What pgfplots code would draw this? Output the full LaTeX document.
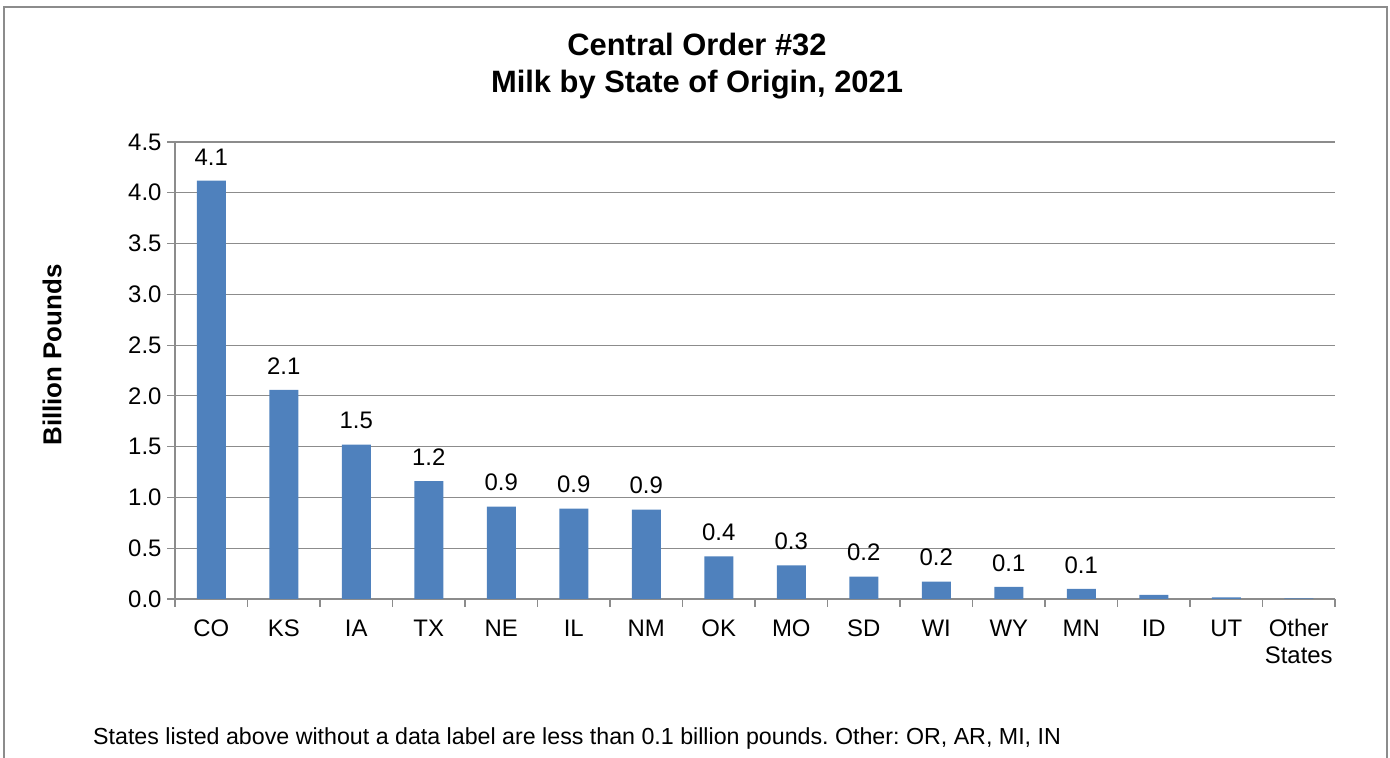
\documentclass[border=0pt]{standalone}
\usepackage{pgfplots}
\pgfplotsset{compat=1.18}
\usepackage{pgfplotstable}
\usepackage{fontspec}
\setmainfont{Liberation Sans}
\frenchspacing
\definecolor{barblue}{HTML}{4F81BD}
\definecolor{gridgray}{HTML}{8C8C8C}
\definecolor{framegray}{HTML}{8C8C8C}
\pgfplotstableread{
x y lab
0 4.12 4.1
1 2.06 2.1
2 1.52 1.5
3 1.16 1.2
4 0.91 0.9
5 0.89 0.9
6 0.88 0.9
7 0.42 0.4
8 0.33 0.3
9 0.22 0.2
10 0.17 0.2
11 0.12 0.1
12 0.10 0.1
13 0.04 {}
14 0.015 {}
15 0.006 {}
}\milk
\begin{document}
\begin{tikzpicture}[x=1bp,y=1bp]
\useasboundingbox (0,0) rectangle (1390,757);
\draw[framegray, line width=1.5bp] (4,-2) -- (4,750) -- (1387,750) -- (1387,-2);
\node[align=center, font=\fontsize{31}{37}\selectfont\bfseries] at (697,691) {Central Order \#32\\Milk by State of Origin, 2021};
\node[rotate=90, font=\fontsize{26}{28}\selectfont\bfseries] at (52,402) {Billion Pounds};
\node[anchor=west, font=\fontsize{23.3}{26}\selectfont, inner sep=0pt] at (93,19) {States listed above without a data label are less than 0.1 billion pounds. Other: OR, AR, MI, IN};
\begin{axis}[
  at={(175bp,158bp)}, anchor=south west,
  scale only axis, width=1160bp, height=457bp,
  xmin=-0.5, xmax=15.5, ymin=0, ymax=4.5,
  ytick={0,0.5,...,4.5},
  yticklabel style={xshift=-2bp, /pgf/number format/.cd, fixed, fixed zerofill, precision=1, assume math mode=true},
  ticklabel style={font=\fontsize{24}{27}\selectfont, text=black},
  xtick={0,...,15},
  xticklabels={\strut CO,\strut KS,\strut IA,\strut TX,\strut NE,\strut IL,\strut NM,\strut OK,\strut MO,\strut SD,\strut WI,\strut WY,\strut MN,\strut ID,\strut UT,{\strut Other\\\strut States}},
  xticklabel style={align=center, yshift=-7bp},
  minor xtick={-0.5,0.5,...,15.5},
  major x tick style={draw=none},
  tick style={gridgray, line width=1.2bp},
  minor tick length=8bp,
  major tick length=8bp,
  tick align=outside,
  xtick pos=bottom, ytick pos=left,
  ymajorgrids, grid style={gridgray, line width=1.2bp},
  axis x line*=bottom, axis y line*=left,
  axis line style={gridgray, line width=1.2bp, -},
  ybar, bar width=29bp,
  nodes near coords,
  point meta=explicit symbolic,
  every node near coord/.append style={font=\fontsize{24}{27}\selectfont, text=black, yshift=12bp},
  clip=false,
]
\addplot[fill=barblue, draw=none, bar shift=0pt] table[x=x, y=y, meta=lab] {\milk};
\end{axis}
\end{tikzpicture}
\end{document}
